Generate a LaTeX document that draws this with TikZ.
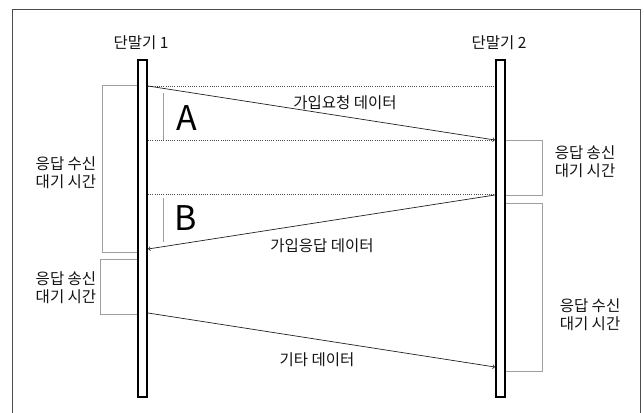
\documentclass[tikz,border=0pt]{standalone}
\usepackage{fontspec}
\setmainfont{Noto Sans CJK KR}
\usetikzlibrary{arrows}

\tikzset{
  lifeline/.style={draw,line width=1.6pt,minimum width=9.5pt,minimum height=337pt,inner sep=0pt},
  waitbox/.style={draw=gray!75,line width=.8pt},
  msg/.style={draw=gray!25!black,line width=.7pt,-to},
  guide/.style={draw=gray!60!black,dash pattern=on 1pt off 1.2pt,line width=.7pt},
  lbl/.style={font=\fontsize{15.5}{18}\selectfont,text=gray!15!black,align=center,inner sep=0pt},
  big/.style={font=\fontsize{34}{34}\selectfont,inner sep=0pt}
}

\begin{document}
\begin{tikzpicture}[x=1pt,y=-1pt]
  \useasboundingbox (0,0) rectangle (644,412);
  \draw[gray!60!black,line width=.8pt] (12,9) rectangle (640,430);

  % terminals
  \node[lifeline] (t1) at (142.5,228.5) {};
  \node[lifeline] (t2) at (500.5,228.5) {};
  \node[lbl] (n1) at (141,43) {단말기 1};
  \node[lbl] (n2) at (499,43) {단말기 2};

  % time marks
  \draw[guide] (t1.east |- 0,86) -- (t2.west |- 0,86);
  \draw[guide] (t1.east |- 0,140) -- (t2.west |- 0,140);
  \draw[guide] (t1.east |- 0,194) -- (t2.west |- 0,194);
  \draw[waitbox] (163,93) -- (163,140);
  \draw[waitbox] (163,198) -- (163,242);
  \node[big] (ma) at (187,118) {A};
  \node[big] (mb) at (186,218) {B};

  % waiting times
  \draw[waitbox] (t1.west |- 0,85) -- (102,85) -- (102,252) -- (t1.west |- 0,252);
  \draw[waitbox] (t1.west |- 0,259) -- (100,259) -- (100,314) -- (t1.west |- 0,314);
  \draw[waitbox] (t2.east |- 0,140) -- (542,140) -- (542,195) -- (t2.east |- 0,195);
  \draw[waitbox] (t2.east |- 0,203) -- (542,203) -- (542,371) -- (t2.east |- 0,371);
  \node[lbl] (w1) at (66,173) {응답 수신\\대기 시간};
  \node[lbl] (w2) at (66,288) {응답 송신\\대기 시간};
  \node[lbl] (w3) at (585,162) {응답 송신\\대기 시간};
  \node[lbl] (w4) at (590,315) {응답 수신\\대기 시간};

  % messages
  \draw[msg] (t1.east |- 0,86) -- (t2.west |- 0,140);
  \draw[msg] (t2.west |- 0,195) -- (t1.east |- 0,249);
  \draw[msg] (t1.east |- 0,313) -- (t2.west |- 0,367);
  \node[lbl] (d1) at (345,103) {가입요청 데이터};
  \node[lbl] (d2) at (322,246) {가입응답 데이터};
  \node[lbl] (d3) at (317,360) {기타 데이터};
\end{tikzpicture}
\end{document}
